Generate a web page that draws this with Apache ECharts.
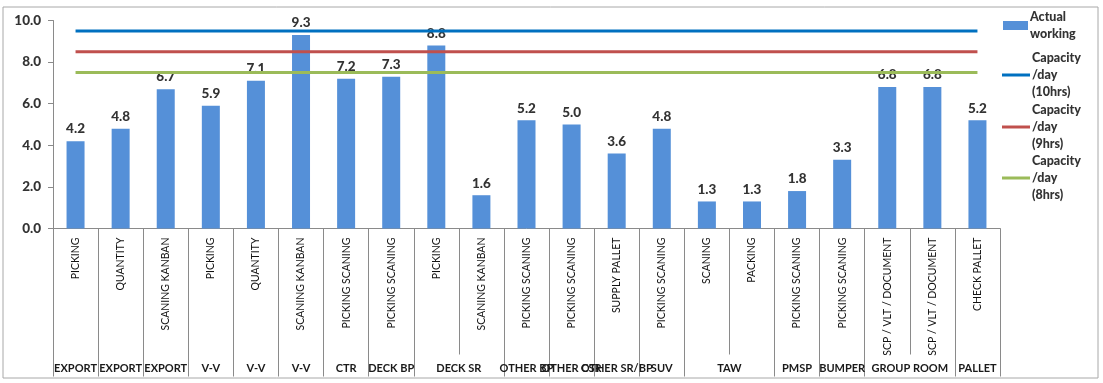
<!DOCTYPE html>
<html><head><meta charset="utf-8">
<script src="https://cdn.jsdelivr.net/npm/echarts@6/dist/echarts.min.js"></script>
<style>html,body{margin:0;padding:0;background:#fff}#c{width:1103px;height:383px}</style>
</head><body><div id="c"></div>
<script>
const categories = ['PICKING','QUANTITY','SCANING KANBAN','PICKING','QUANTITY','SCANING KANBAN','PICKING SCANING','PICKING SCANING','PICKING','SCANING KANBAN','PICKING SCANING','PICKING SCANING','SUPPLY PALLET','PICKING SCANING','SCANING','PACKING','PICKING SCANING','PICKING SCANING','SCP / VLT / DOCUMENT','SCP / VLT / DOCUMENT','CHECK PALLET'];
const groups = ['EXPORT','EXPORT','EXPORT','V-V','V-V','V-V','CTR','DECK BP','DECK SR','OTHER BP','OTHER CSR','OTHER SR/BP','SUV','TAW','PMSP','BUMPER','GROUP ROOM','PALLET'];
const groupSpans = [1,1,1,1,1,1,1,1,2,1,1,1,1,2,1,1,2,1];
const actualWorking = [4.2,4.8,6.7,5.9,7.1,9.3,7.2,7.3,8.8,1.6,5.2,5.0,3.6,4.8,1.3,1.3,1.8,3.3,6.8,6.8,5.2];
const capacity10 = [9.5,9.5,9.5,9.5,9.5,9.5,9.5,9.5,9.5,9.5,9.5,9.5,9.5,9.5,9.5,9.5,9.5,9.5,9.5,9.5,9.5];
const capacity9 = [8.5,8.5,8.5,8.5,8.5,8.5,8.5,8.5,8.5,8.5,8.5,8.5,8.5,8.5,8.5,8.5,8.5,8.5,8.5,8.5,8.5];
const capacity8 = [7.5,7.5,7.5,7.5,7.5,7.5,7.5,7.5,7.5,7.5,7.5,7.5,7.5,7.5,7.5,7.5,7.5,7.5,7.5,7.5,7.5];
const yTicks = [0,2,4,6,8,10];
const seriesNames = ['Actual working','Capacity /day (10hrs)','Capacity /day (9hrs)','Capacity /day (8hrs)'];
const legendLines = {
  'Actual working': ['Actual','working'],
  'Capacity /day (10hrs)': ['Capacity','/day','(10hrs)'],
  'Capacity /day (9hrs)': ['Capacity','/day','(9hrs)'],
  'Capacity /day (8hrs)': ['Capacity','/day','(8hrs)']
};

// group boundaries and centers (in category units)
const boundaries = [0];
const centers = [];
const centerLabel = {};
let acc = 0;
groups.forEach((g, i) => {
  centers.push(acc + groupSpans[i] / 2);
  centerLabel[(acc + groupSpans[i] / 2).toFixed(2)] = g;
  acc += groupSpans[i];
  boundaries.push(acc);
});

const FONT = 'Lato';
const LH = 17;
function legendCfg(name, top, isBar) {
  const n = legendLines[name].length;
  return {
    data: [{ name: name, icon: 'rect' }],
    orient: 'vertical', left: isBar ? 1003 : 1002, top: top, padding: 0,
    itemWidth: isBar ? 25 : 28, itemHeight: isBar ? 9 : 3,
    formatter: nm => legendLines[nm].join('\n'),
    textStyle: { fontFamily: FONT, fontWeight: 900, fontSize: 12.5, color: '#333',
      lineHeight: LH, padding: [(n - 1) * LH, 0, 0, -3] }
  };
}

const chart = echarts.init(document.getElementById('c'));
chart.setOption({
  animation: false,
  textStyle: { fontFamily: FONT },
  graphic: [{ type: 'rect', shape: { x: 3, y: 7, width: 1095, height: 371 }, style: { fill: 'none', stroke: '#a8a8a8', lineWidth: 1 }, silent: true, z: -1 }],
  legend: [
    legendCfg(seriesNames[0], 0, true),
    legendCfg(seriesNames[1], 32.5, false),
    legendCfg(seriesNames[2], 84.5, false),
    legendCfg(seriesNames[3], 135.5, false)
  ],
  grid: { left: 53, right: 103, top: 20.5, bottom: 154.5 },
  xAxis: [{
    type: 'category', data: categories, position: 'bottom',
    axisLine: { lineStyle: { color: '#8a8a8a', width: 1 } },
    axisTick: { show: true, interval: 0, length: 126, lineStyle: { color: '#8a8a8a' } },
    axisLabel: { interval: 0, rotate: 90, margin: 9, fontSize: 10.5, color: '#111', fontFamily: FONT }
  }, {
    type: 'value', min: 0, max: boundaries[boundaries.length - 1], position: 'bottom',
    axisLine: { show: false }, splitLine: { show: false },
    axisTick: { show: true, customValues: boundaries, length: 148, lineStyle: { color: '#8a8a8a' } },
    axisLabel: { customValues: centers, margin: 134, fontSize: 11, fontWeight: 'bold', color: '#1a1a1a', fontFamily: FONT,
      formatter: v => centerLabel[Number(v).toFixed(2)] || '' }
  }],
  yAxis: {
    type: 'value', min: 0, max: 10, interval: 2,
    axisLine: { show: true, lineStyle: { color: '#8a8a8a' } },
    axisTick: { show: true, length: 5, lineStyle: { color: '#8a8a8a' } },
    splitLine: { show: false },
    axisLabel: { margin: 12, fontSize: 13.5, fontWeight: 900, color: '#333', fontFamily: FONT,
      formatter: v => Number(v).toFixed(1) }
  },
  series: [{
    name: seriesNames[0], type: 'bar', data: actualWorking, barWidth: 18,
    itemStyle: { color: '#5590D8' },
    label: { show: true, position: 'top', distance: 5, fontSize: 13.5, fontWeight: 900, color: '#333', fontFamily: FONT,
      formatter: p => Number(p.value).toFixed(1) }
  }, {
    name: seriesNames[1], type: 'line', data: capacity10, symbol: 'none', lineStyle: { color: '#0070C0', width: 3 }, itemStyle: { color: '#0070C0' }, z: 3
  }, {
    name: seriesNames[2], type: 'line', data: capacity9, symbol: 'none', lineStyle: { color: '#C0504D', width: 3 }, itemStyle: { color: '#C0504D' }, z: 3
  }, {
    name: seriesNames[3], type: 'line', data: capacity8, symbol: 'none', lineStyle: { color: '#9BBB59', width: 3 }, itemStyle: { color: '#9BBB59' }, z: 3
  }]
});
</script></body></html>
